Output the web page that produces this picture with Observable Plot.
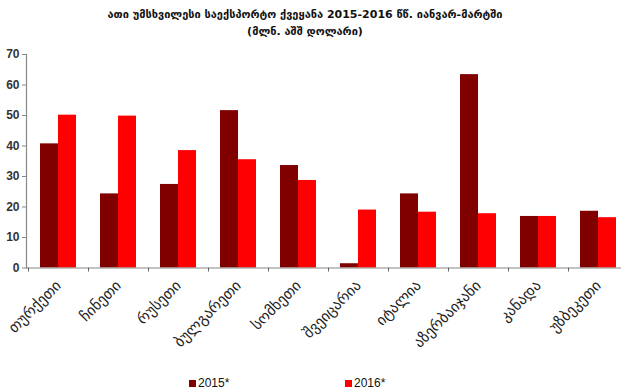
<!DOCTYPE html>
<html>
<head>
<meta charset="utf-8">
<script src="https://cdn.jsdelivr.net/npm/d3@7"></script>
<script src="https://cdn.jsdelivr.net/npm/@observablehq/plot@0.6"></script>
<style>
  body { margin: 0; background: #fff; width: 621px; height: 389px; overflow: hidden; position: relative; }
  #title { position: absolute; left: 0; top: 6px; width: 610px; text-align: center; font-family: "DejaVu Sans", sans-serif; font-weight: bold; font-size: 11px; line-height: 17px; color: #111; }
  #chart { position: absolute; left: 0; top: 44px; }
  #legend { position: absolute; top: 376px; left: 0; font-family: "Liberation Sans", Arial, sans-serif; font-size: 12px; color: #111; }
  .item { position: absolute; white-space: nowrap; }
  .sw { display: inline-block; width: 7px; height: 7px; margin-right: 2px; vertical-align: 0px; }
</style>
</head>
<body>
<div id="title"></div>
<div id="chart"></div>
<div id="legend"></div>
<script>
const titleLines = ["ათი უმსხვილესი საექსპორტო ქვეყანა 2015-2016 წწ. იანვარ-მარტში", "(მლნ. აშშ დოლარი)"];
const countries = ["თურქეთი", "ჩინეთი", "რუსეთი", "ბულგარეთი", "სომხეთი", "შვეიცარია", "იტალია", "აზერბაიჯანი", "კანადა", "უზბეკეთი"];
const seriesNames = ["2015*", "2016*"];
const values2015 = [40.7, 24.3, 27.4, 51.6, 33.6, 1.4, 24.3, 63.4, 16.9, 18.6];
const values2016 = [50.1, 49.8, 38.5, 35.5, 28.7, 19.0, 18.3, 17.8, 16.9, 16.5];
const yTicks = [0, 10, 20, 30, 40, 50, 60, 70];
const colors = ["#800000", "#ff0000"];

document.getElementById("title").innerHTML = titleLines.join("<br>");

const rows = countries.map((c, i) => ({country: c, v2015: values2015[i], v2016: values2016[i]}));

const chart = Plot.plot({
  width: 621,
  height: 310,
  marginTop: 10,
  marginLeft: 26,
  marginRight: 0,
  marginBottom: 86.5,
  x: {domain: countries, range: [28.3, 628.3], paddingInner: 0.4, paddingOuter: 0.2},
  y: {domain: [0, 70]},
  marks: [
    Plot.barY(rows, {x: "country", y: "v2015", fill: colors[0], insetRight: 18}),
    Plot.barY(rows, {x: "country", y: "v2016", fill: colors[1], insetLeft: 18}),
    Plot.ruleY([0], {stroke: "#888", strokeWidth: 1.2}),
    Plot.frame({anchor: "left", stroke: "#888", strokeWidth: 1.2}),
    Plot.ruleX(countries, {x: d => d, y1: 0, y2: 0, insetBottom: -4, dx: -30, stroke: "#666"}),
    Plot.axisY({ticks: yTicks, tickSize: 4, tickPadding: 3, stroke: "#888", fontSize: 12, fontWeight: "bold", fontFamily: "Liberation Sans, Arial, sans-serif", fill: "#333", label: null}),
    Plot.axisX({tickSize: 0, tickRotate: -45, tickPadding: 15, fontSize: 15, fontFamily: "DejaVu Sans, sans-serif", fill: "#222", label: null})
  ]
});
document.getElementById("chart").appendChild(chart);

const legend = document.getElementById("legend");
const lx = [189, 345];
seriesNames.forEach((s, i) => {
  const d = document.createElement("div");
  d.className = "item";
  d.style.left = lx[i] + "px";
  d.innerHTML = `<span class="sw" style="background:${colors[i]}"></span>${s}`;
  legend.appendChild(d);
});
</script>
</body>
</html>
